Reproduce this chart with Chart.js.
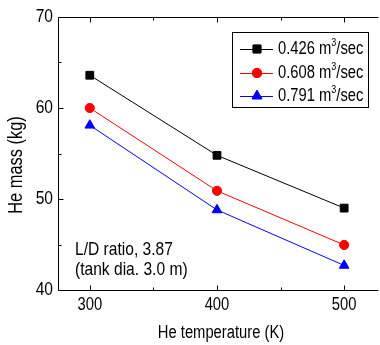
<!DOCTYPE html>
<html>
<head>
<meta charset="utf-8">
<style>
  html, body { margin: 0; padding: 0; background: #fff; }
  #wrap { width: 380px; height: 345px; }
</style>
</head>
<body>
<div id="wrap"><canvas id="chart"></canvas></div>
<script src="https://cdn.jsdelivr.net/npm/chart.js"></script>
<script>
  // values
  const temperatures = [300, 400, 500];
  const mass426 = [63.6, 54.8, 49.0];
  const mass608 = [60.0, 50.9, 44.95];
  const mass791 = [58.1, 48.8, 42.7];
  const flowLabels = ['0.426', '0.608', '0.791'];
  const xTicks = [300, 400, 500];
  const yTicks = [40, 50, 60, 70];
  const noteLines = ['L/D ratio, 3.87', '(tank dia. 3.0 m)'];

  const FONT = '"Liberation Sans", Arial, sans-serif';
  const SQUEEZE = 0.82; // figure uses a narrow Arial-like face

  const toPoints = (vals) => vals.map((v, i) => ({ x: temperatures[i], y: v }));

  // narrow text: regular face squeezed horizontally
  function narrow(ctx, text, x, y, size, align, rot) {
    ctx.save();
    ctx.translate(x, y);
    if (rot) ctx.rotate(rot);
    ctx.scale(SQUEEZE, 1);
    ctx.font = size + 'px ' + FONT;
    ctx.textAlign = align || 'left';
    ctx.textBaseline = 'middle';
    ctx.fillText(text, 0, 0);
    const w = ctx.measureText(text).width * SQUEEZE;
    ctx.restore();
    return w;
  }

  const frame = {
    id: 'frame',
    beforeDatasetsDraw(chart) {
      const { ctx, chartArea: a, scales: { x, y } } = chart;
      const L = a.left + 0.5, T = a.top + 0.5, B = a.bottom + 0.5;
      ctx.save();
      ctx.strokeStyle = '#000';
      ctx.lineWidth = 1;
      ctx.beginPath();
      ctx.moveTo(a.right + 5, T); ctx.lineTo(L, T); ctx.lineTo(L, B); ctx.lineTo(a.right + 5, B);
      for (let v = 40; v <= 70; v += 5) {
        const py = Math.round(y.getPixelForValue(v)) + 0.5;
        const len = v % 10 === 0 ? 5 : 3;
        ctx.moveTo(L, py); ctx.lineTo(L + len, py);
      }
      for (let v = 300; v <= 500; v += 50) {
        const px = Math.round(x.getPixelForValue(v)) + 0.5;
        const len = v % 100 === 0 ? 5 : 3;
        ctx.moveTo(px, B); ctx.lineTo(px, B - len);
        ctx.moveTo(px, T); ctx.lineTo(px, T + len);
      }
      ctx.stroke();

      // tick labels and axis titles
      ctx.fillStyle = '#000';
      yTicks.forEach(v => narrow(ctx, String(v), a.left - 5, y.getPixelForValue(v), 19, 'right'));
      xTicks.forEach(v => narrow(ctx, String(v), x.getPixelForValue(v), a.bottom + 15, 18, 'center'));
      narrow(ctx, 'He temperature (K)', 221, 333, 18, 'center');
      narrow(ctx, 'He mass (kg)', 16, 165, 20, 'center', -Math.PI / 2);
      ctx.restore();
    },
    afterDraw(chart) {
      const { ctx } = chart;
      ctx.save();
      ctx.fillStyle = '#000';

      // note text
      narrow(ctx, noteLines[0], 75, 250, 19, 'left');
      narrow(ctx, noteLines[1], 75, 270, 19, 'left');

      // legend
      ctx.strokeStyle = '#000';
      ctx.lineWidth = 1;
      ctx.strokeRect(232.5, 32.5, 136, 75);
      const rowY = [49, 73, 96];
      chart.data.datasets.forEach((ds, i) => {
        const cy = rowY[i];
        ctx.strokeStyle = ds.borderColor;
        ctx.beginPath();
        ctx.moveTo(240, cy + 0.5); ctx.lineTo(273, cy + 0.5);
        ctx.stroke();
        Chart.helpers.drawPoint(ctx, {
          pointStyle: ds.pointStyle, radius: ds.pointRadius, borderWidth: 1, rotation: 0
        }, 257, cy);
        ctx.fillStyle = ds.backgroundColor;
        ctx.strokeStyle = ds.borderColor;
        ctx.fill();
        ctx.stroke();
        ctx.fillStyle = '#000';
        let tx = 278;
        tx += narrow(ctx, flowLabels[i] + ' m', tx, cy, 18, 'left');
        tx += narrow(ctx, '3', tx, cy - 6, 11, 'left');
        narrow(ctx, '/sec', tx, cy, 18, 'left');
      });
      ctx.restore();
    }
  };

  const ds = (label, data, color, style, r) => ({
    label, data: toPoints(data),
    borderColor: color, backgroundColor: color,
    borderWidth: 1, pointStyle: style, pointRadius: r, pointHoverRadius: r,
    pointBorderWidth: 1, tension: 0, clip: false
  });

  new Chart(document.getElementById('chart'), {
    type: 'line',
    data: {
      datasets: [
        ds(flowLabels[0] + ' m3/sec', mass426, '#000000', 'rect', 5.5),
        ds(flowLabels[1] + ' m3/sec', mass608, '#ff0000', 'circle', 4.6),
        ds(flowLabels[2] + ' m3/sec', mass791, '#0000ff', 'triangle', 5.6)
      ]
    },
    options: {
      responsive: true,
      maintainAspectRatio: false,
      animation: false,
      events: [],
      layout: { padding: { top: 17, right: 0, left: 0, bottom: 0 } },
      plugins: { legend: { display: false }, tooltip: { enabled: false } },
      scales: {
        x: {
          type: 'linear', min: 275, max: 523,
          afterBuildTicks: (s) => { s.ticks = xTicks.map(v => ({ value: v })); },
          afterFit: (s) => { s.height = 55; },
          grid: { display: false, drawTicks: false },
          border: { display: false },
          ticks: { display: false }
        },
        y: {
          min: 40, max: 70,
          afterBuildTicks: (s) => { s.ticks = yTicks.map(v => ({ value: v })); },
          afterFit: (s) => { s.width = 58; },
          grid: { display: false, drawTicks: false },
          border: { display: false },
          ticks: { display: false }
        }
      }
    },
    plugins: [frame]
  });
</script>
</body>
</html>
